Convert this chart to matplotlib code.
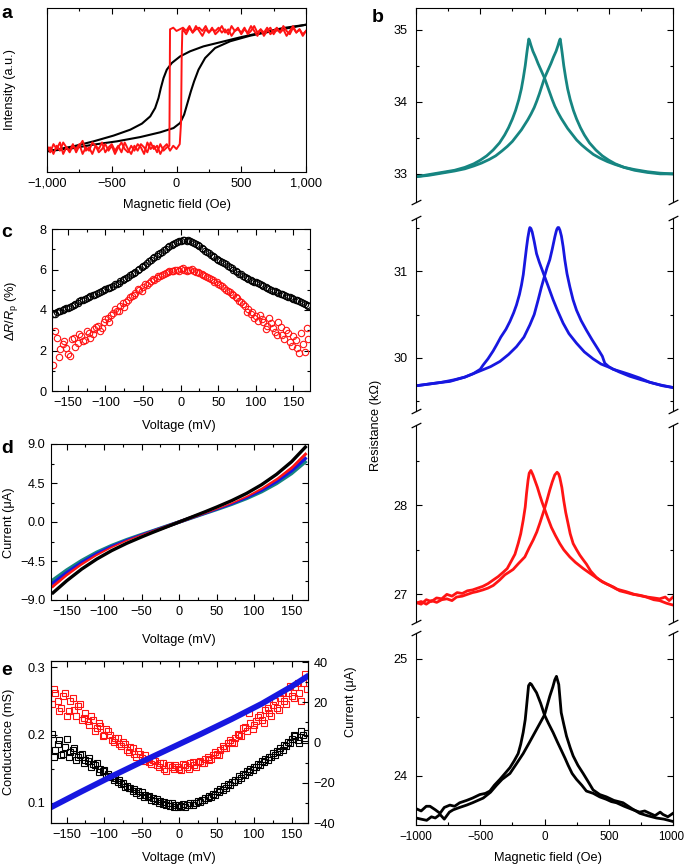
import numpy as np
import matplotlib
matplotlib.use('Agg')
import matplotlib.pyplot as plt
from matplotlib.ticker import MultipleLocator, FuncFormatter, FixedLocator

plt.rcParams['font.family'] = ['Liberation Sans', 'DejaVu Sans']
plt.rcParams['mathtext.fontset'] = 'custom'
plt.rcParams['mathtext.rm'] = 'Liberation Sans'
plt.rcParams['mathtext.it'] = 'Liberation Sans:italic'
FS = 9.2
plt.rcParams['font.size'] = FS

# ---------------- Panel a: hysteresis loops (intensity, a.u.) ----------------
a_black_down_field = [1000, 825, 645, 491, 337, 208, 105, 28, -36, -75, -100, -121, -139, -165, -203, -267,
                      -357, -486, -640, -794, -1000]
a_black_down_int = [0.898, 0.878, 0.848, 0.821, 0.791, 0.766, 0.736, 0.705, 0.665, 0.624, 0.573, 0.512, 0.451,
                    0.390, 0.339, 0.295, 0.258, 0.222, 0.187, 0.157, 0.126]
a_black_up_field = [-1000, -794, -640, -460, -280, -126, -23, 28, 59, 85, 111, 136, 170, 221, 298, 414, 568, 774, 1000]
a_black_up_int = [0.126, 0.146, 0.167, 0.187, 0.213, 0.242, 0.268, 0.299, 0.350, 0.421, 0.492, 0.553, 0.624,
                  0.695, 0.756, 0.797, 0.831, 0.864, 0.898]

a_red_up_low_field = list(range(-1000, 26, 25))
a_red_up_low_int = [0.16, 0.12, 0.17, 0.14, 0.18, 0.11, 0.15, 0.13, 0.17, 0.12, 0.16, 0.19, 0.13, 0.15, 0.11,
                    0.16, 0.14, 0.18, 0.12, 0.15, 0.17, 0.13, 0.16, 0.12, 0.18, 0.14, 0.11, 0.16, 0.13, 0.17,
                    0.15, 0.12, 0.18, 0.14, 0.16, 0.11, 0.15, 0.17, 0.13, 0.16, 0.14, 0.17]
a_red_up_jump_field = [35, 40, 45]
a_red_up_jump_int = [0.30, 0.70, 0.86]
a_red_up_high_field = list(range(50, 1001, 25))
a_red_up_high_int = [0.87, 0.84, 0.88, 0.85, 0.89, 0.86, 0.83, 0.87, 0.85, 0.88, 0.84, 0.86, 0.89, 0.85, 0.87,
                     0.83, 0.86, 0.88, 0.84, 0.87, 0.85, 0.89, 0.86, 0.83, 0.87, 0.85, 0.88, 0.84, 0.86, 0.88,
                     0.85, 0.87, 0.83, 0.86, 0.89, 0.85, 0.87, 0.84, 0.86]
a_red_dn_high_field = list(range(1000, -51, -25))
a_red_dn_high_int = [0.86, 0.83, 0.87, 0.85, 0.88, 0.84, 0.86, 0.89, 0.85, 0.87, 0.84, 0.88, 0.86, 0.83, 0.87,
                     0.85, 0.89, 0.86, 0.84, 0.88, 0.85, 0.87, 0.86, 0.89, 0.84, 0.87, 0.85, 0.88, 0.86, 0.87,
                     0.85, 0.89, 0.86, 0.88, 0.87, 0.85, 0.89, 0.86, 0.88, 0.87, 0.86, 0.88, 0.87]
a_red_dn_jump_field = [-55]
a_red_dn_jump_int = [0.16]
a_red_dn_low_field = list(range(-75, -1001, -25))
a_red_dn_low_int = [0.15, 0.13, 0.17, 0.12, 0.16, 0.14, 0.18, 0.11, 0.15, 0.17, 0.13, 0.16, 0.12, 0.14, 0.18,
                    0.15, 0.11, 0.16, 0.13, 0.17, 0.14, 0.12, 0.16, 0.18, 0.13, 0.15, 0.11, 0.17, 0.14, 0.16,
                    0.12, 0.15, 0.18, 0.13, 0.16, 0.11, 0.15, 0.14]

# ---------------- Panel b: resistance vs field (kOhm) ----------------
b_teal_L_field = [-1000, -900, -800, -700, -620, -550, -500, -450, -400, -350, -310, -280, -250, -225, -200, -180,
                  -165, -150, -138, -128, -122, -115, -105, -90, -70, -50, -30, -10, 0, 20, 40, 60, 80, 105, 130,
                  155, 180, 215, 250, 290, 330, 380, 430, 490, 550, 620, 700, 800, 900, 1000]
b_teal_L_res = [32.96, 32.99, 33.02, 33.05, 33.09, 33.14, 33.19, 33.25, 33.33, 33.43, 33.54, 33.64, 33.76, 33.88,
                34.03, 34.18, 34.33, 34.50, 34.67, 34.80, 34.87, 34.84, 34.78, 34.70, 34.62, 34.53, 34.45, 34.37,
                34.33, 34.23, 34.13, 34.03, 33.94, 33.85, 33.77, 33.70, 33.63, 33.55, 33.47, 33.40, 33.34, 33.27,
                33.22, 33.17, 33.13, 33.09, 33.06, 33.03, 33.01, 33.00]
b_teal_R_field = [-1000, -900, -800, -700, -620, -550, -490, -430, -380, -330, -290, -250, -215, -180, -155, -130,
                  -105, -80, -60, -40, -20, 0, 10, 30, 50, 70, 90, 105, 115, 122, 128, 138, 150, 165, 180, 200,
                  225, 250, 280, 310, 350, 400, 450, 500, 550, 620, 700, 800, 900, 1000]
b_teal_R_res = [32.96, 32.98, 33.01, 33.04, 33.07, 33.11, 33.15, 33.20, 33.25, 33.32, 33.38, 33.45, 33.53, 33.61,
                33.68, 33.75, 33.83, 33.92, 34.01, 34.11, 34.22, 34.33, 34.37, 34.45, 34.53, 34.62, 34.70, 34.78,
                34.84, 34.87, 34.80, 34.67, 34.50, 34.33, 34.18, 34.03, 33.88, 33.76, 33.64, 33.54, 33.43, 33.33,
                33.25, 33.19, 33.14, 33.09, 33.05, 33.02, 33.00, 33.00]

b_blue_L_field = [-1000, -900, -800, -700, -620, -554, -500, -477, -440, -400, -373, -340, -300, -269, -240, -218,
                  -195, -179, -165, -153, -140, -130, -124, -118, -114, -106, -96, -80, -62, -40, -20, 0, 30, 67,
                  100, 145, 190, 249, 310, 378, 440, 508, 580, 663, 750, 845, 920, 1000]
b_blue_L_res = [29.68, 29.70, 29.72, 29.75, 29.78, 29.82, 29.87, 29.92, 29.99, 30.08, 30.15, 30.24, 30.33, 30.42,
                30.52, 30.61, 30.73, 30.84, 30.96, 31.11, 31.27, 31.38, 31.43, 31.48, 31.50, 31.49, 31.45, 31.34,
                31.20, 31.10, 31.02, 30.94, 30.82, 30.67, 30.55, 30.40, 30.28, 30.17, 30.07, 29.99, 29.93, 29.89,
                29.84, 29.79, 29.75, 29.71, 29.68, 29.66]
b_blue_R_field = [-1000, -900, -800, -736, -620, -503, -420, -347, -280, -218, -160, -114, -80, -49, -25, 0, 20,
                  41, 60, 80, 90, 96, 104, 111, 120, 132, 145, 158, 175, 197, 222, 249, 285, 326, 370, 417, 450,
                  469, 500, 534, 600, 663, 740, 819, 900, 1000]
b_blue_R_res = [29.68, 29.70, 29.72, 29.73, 29.78, 29.85, 29.90, 29.96, 30.04, 30.13, 30.24, 30.38, 30.50, 30.67,
                30.81, 30.94, 31.04, 31.13, 31.25, 31.39, 31.45, 31.48, 31.50, 31.50, 31.47, 31.40, 31.28, 31.13,
                30.97, 30.82, 30.67, 30.55, 30.43, 30.32, 30.21, 30.10, 30.02, 29.94, 29.90, 29.87, 29.84, 29.81,
                29.77, 29.72, 29.69, 29.66]

b_red_L_field = [-1000, -960, -920, -880, -840, -800, -760, -720, -680, -640, -600, -560, -520, -480, -440, -400,
                 -360, -320, -290, -256, -230, -205, -185, -166, -150, -140, -128, -119, -106, -90, -75, -55, -36,
                 -18, 0, 25, 54, 85, 119, 150, 197, 240, 301, 350, 430, 480, 540, 585, 640, 690, 741, 800, 850,
                 896, 940, 970, 1000]
b_red_L_res = [26.91, 26.89, 26.94, 26.92, 26.96, 26.95, 27.00, 26.98, 27.02, 27.01, 27.04, 27.05, 27.07, 27.09,
               27.12, 27.16, 27.20, 27.25, 27.29, 27.38, 27.45, 27.57, 27.68, 27.83, 27.98, 28.13, 28.28, 28.36,
               28.39, 28.34, 28.28, 28.20, 28.11, 28.03, 27.96, 27.86, 27.75, 27.66, 27.57, 27.50, 27.42, 27.36,
               27.29, 27.24, 27.16, 27.12, 27.08, 27.04, 27.02, 27.00, 26.99, 26.97, 26.96, 26.95, 26.97, 26.93,
               26.97]
b_red_R_field = [-1000, -960, -920, -880, -839, -800, -760, -720, -684, -640, -600, -560, -528, -480, -440, -399,
                 -350, -308, -275, -244, -200, -153, -120, -88, -60, -36, -18, 0, 20, 41, 60, 80, 98, 110, 119,
                 135, 150, 165, 184, 200, 223, 250, 275, 300, 326, 360, 404, 450, 508, 560, 637, 700, 793, 850,
                 896, 950, 1000]
b_red_R_res = [26.90, 26.92, 26.89, 26.93, 26.91, 26.94, 26.95, 26.93, 26.97, 26.98, 27.00, 27.02, 27.03, 27.05,
               27.07, 27.10, 27.16, 27.22, 27.25, 27.28, 27.35, 27.42, 27.52, 27.61, 27.70, 27.80, 27.88, 27.96,
               28.06, 28.17, 28.26, 28.34, 28.37, 28.35, 28.31, 28.20, 28.05, 27.92, 27.79, 27.68, 27.57, 27.50,
               27.44, 27.39, 27.34, 27.26, 27.19, 27.14, 27.10, 27.06, 27.03, 27.00, 26.97, 26.94, 26.93, 26.90,
               26.88]

b_black_L_field = [-1000, -960, -920, -891, -850, -813, -780, -736, -700, -660, -606, -560, -503, -460, -425,
                   -390, -347, -300, -269, -235, -205, -185, -166, -150, -140, -124, -112, -101, -85, -62, -30, 0,
                   30, 67, 100, 130, 160, 184, 215, 249, 290, 326, 380, 430, 480, 520, 560, 620, 689, 740, 780,
                   819, 860, 900, 922, 960, 1000]
b_black_L_res = [23.72, 23.70, 23.74, 23.74, 23.71, 23.68, 23.73, 23.75, 23.74, 23.77, 23.79, 23.81, 23.84, 23.85,
                 23.87, 23.92, 23.97, 24.03, 24.07, 24.13, 24.19, 24.27, 24.37, 24.48, 24.59, 24.77, 24.79, 24.78,
                 24.75, 24.71, 24.62, 24.52, 24.45, 24.37, 24.29, 24.22, 24.15, 24.09, 24.02, 23.97, 23.92, 23.87,
                 23.85, 23.82, 23.80, 23.78, 23.77, 23.74, 23.71, 23.69, 23.70, 23.68, 23.66, 23.69, 23.67, 23.65,
                 23.68]
b_black_R_field = [-1000, -960, -917, -880, -850, -813, -780, -740, -710, -660, -606, -560, -477, -420, -373,
                   -330, -269, -220, -166, -120, -75, -40, 0, 41, 65, 80, 93, 111, 130, 150, 171, 200, 223, 260,
                   301, 340, 378, 430, 482, 540, 611, 680, 741, 800, 870, 930, 1000]
b_black_R_res = [23.64, 23.63, 23.62, 23.65, 23.64, 23.67, 23.63, 23.69, 23.71, 23.73, 23.75, 23.77, 23.81, 23.86,
                 23.92, 23.97, 24.02, 24.10, 24.19, 24.28, 24.37, 24.44, 24.52, 24.68, 24.76, 24.82, 24.85, 24.78,
                 24.54, 24.44, 24.34, 24.24, 24.17, 24.09, 24.02, 23.95, 23.88, 23.84, 23.82, 23.79, 23.77, 23.72,
                 23.68, 23.66, 23.64, 23.63, 23.61]

# ---------------- Panel c: dR/Rp (%) vs voltage ----------------
c_volt_1 = list(range(-170, 171, 5))
c_volt_2 = list(range(-167, 171, 5))
c_black_1 = [3.80, 3.88, 3.95, 4.05, 4.12, 4.20, 4.28, 4.42, 4.50, 4.58, 4.68, 4.75, 4.85, 4.92, 5.02, 5.10, 5.20,
             5.30, 5.42, 5.52, 5.65, 5.78, 5.90, 6.02, 6.15, 6.30, 6.45, 6.60, 6.75, 6.88, 7.02, 7.15, 7.27, 7.36,
             7.42, 7.46, 7.44, 7.38, 7.28, 7.15, 7.02, 6.88, 6.74, 6.60, 6.47, 6.35, 6.25, 6.12, 6.00, 5.88, 5.76,
             5.65, 5.55, 5.45, 5.36, 5.27, 5.18, 5.10, 5.00, 4.92, 4.85, 4.78, 4.70, 4.62, 4.55, 4.47, 4.40, 4.30,
             4.22]
c_black_2 = [3.78, 3.95, 4.00, 4.12, 4.15, 4.27, 4.33, 4.47, 4.55, 4.62, 4.73, 4.80, 4.90, 4.97, 5.08, 5.15, 5.27,
             5.35, 5.48, 5.60, 5.72, 5.85, 5.97, 6.10, 6.24, 6.40, 6.55, 6.69, 6.83, 6.97, 7.10, 7.22, 7.33, 7.40,
             7.48, 7.43, 7.40, 7.32, 7.20, 7.08, 6.93, 6.80, 6.66, 6.52, 6.40, 6.30, 6.17, 6.05, 5.93, 5.80, 5.70,
             5.60, 5.49, 5.40, 5.31, 5.22, 5.13, 5.05, 4.96, 4.88, 4.80, 4.74, 4.66, 4.58, 4.50, 4.43, 4.35, 4.26]
c_red_1 = [1.30, 2.60, 2.05, 2.45, 1.85, 2.55, 2.15, 2.80, 2.45, 2.95, 2.60, 3.05, 3.20, 3.10, 3.55, 3.40, 3.85,
           3.95, 4.20, 4.15, 4.50, 4.70, 4.85, 5.00, 5.15, 5.25, 5.45, 5.50, 5.70, 5.75, 5.85, 5.95, 5.95, 6.00,
           6.02, 6.00, 5.98, 6.02, 5.90, 5.85, 5.72, 5.65, 5.55, 5.40, 5.30, 5.20, 5.00, 4.90, 4.75, 4.60, 4.40,
           4.20, 4.05, 3.90, 3.70, 3.75, 3.40, 3.20, 3.35, 2.90, 3.40, 2.75, 3.00, 2.40, 2.70, 2.10, 2.85, 1.95,
           2.55]
c_red_2 = [2.95, 1.70, 2.30, 2.10, 1.75, 2.60, 2.35, 2.70, 2.50, 2.85, 2.80, 3.15, 2.95, 3.40, 3.60, 3.75, 4.05,
           3.95, 4.35, 4.40, 4.65, 4.75, 5.05, 4.95, 5.30, 5.35, 5.55, 5.60, 5.70, 5.80, 5.90, 5.92, 5.97, 5.95,
           6.05, 5.95, 6.00, 5.95, 5.88, 5.80, 5.70, 5.58, 5.50, 5.38, 5.25, 5.10, 4.95, 4.80, 4.65, 4.45, 4.30,
           3.90, 3.80, 3.60, 3.45, 3.55, 3.05, 3.60, 3.10, 2.75, 3.15, 2.55, 2.85, 2.20, 2.50, 1.90, 2.30, 3.10]

# ---------------- Panel d: I-V curves (uA) ----------------
d_volt = [-170, -150, -130, -110, -90, -70, -50, -35, -20, 0, 20, 35, 50, 70, 90, 110, 130, 150, 170]
d_teal = [-6.80, -5.55, -4.45, -3.50, -2.72, -2.05, -1.45, -1.02, -0.58, 0.0, 0.58, 1.02, 1.45, 2.05, 2.72, 3.50,
          4.45, 5.60, 7.06]
d_blue = [-7.18, -5.85, -4.68, -3.68, -2.85, -2.15, -1.52, -1.06, -0.61, 0.0, 0.61, 1.06, 1.52, 2.15, 2.85, 3.68,
          4.68, 5.90, 7.45]
d_red = [-7.56, -6.15, -4.92, -3.88, -3.00, -2.25, -1.59, -1.11, -0.64, 0.0, 0.64, 1.11, 1.59, 2.25, 3.00, 3.88,
         4.95, 6.25, 7.95]
d_white = [-7.92, -6.45, -5.17, -4.07, -3.15, -2.36, -1.65, -1.15, -0.66, 0.0, 0.66, 1.15, 1.65, 2.36, 3.15, 4.10,
           5.22, 6.60, 8.38]
d_black = [-8.30, -6.78, -5.43, -4.28, -3.30, -2.46, -1.72, -1.19, -0.68, 0.0, 0.68, 1.19, 1.72, 2.46, 3.30, 4.30,
           5.50, 6.95, 8.78]

# ---------------- Panel e: conductance (mS) and current (uA) ----------------
e_volt_1 = list(range(-170, 171, 5))
e_volt_2 = list(range(-167, 171, 5))
e_red_1 = [0.245, 0.262, 0.235, 0.258, 0.228, 0.250, 0.236, 0.242, 0.222, 0.232, 0.215, 0.222, 0.210, 0.213,
           0.200, 0.205, 0.192, 0.196, 0.186, 0.190, 0.178, 0.182, 0.172, 0.176, 0.166, 0.170, 0.160, 0.163,
           0.156, 0.158, 0.150, 0.155, 0.152, 0.156, 0.150, 0.157, 0.153, 0.158, 0.155, 0.160, 0.158, 0.165,
           0.163, 0.170, 0.172, 0.178, 0.180, 0.188, 0.190, 0.196, 0.200, 0.210, 0.206, 0.218, 0.214, 0.226,
           0.222, 0.236, 0.232, 0.244, 0.240, 0.255, 0.250, 0.262, 0.258, 0.270, 0.262, 0.276, 0.268]
e_red_2 = [0.268, 0.250, 0.240, 0.262, 0.235, 0.255, 0.228, 0.245, 0.225, 0.220, 0.228, 0.205, 0.218, 0.198,
           0.208, 0.200, 0.190, 0.195, 0.183, 0.186, 0.175, 0.180, 0.168, 0.172, 0.162, 0.165, 0.157, 0.162,
           0.152, 0.158, 0.147, 0.156, 0.150, 0.153, 0.148, 0.155, 0.150, 0.160, 0.153, 0.162, 0.158, 0.167,
           0.165, 0.175, 0.170, 0.184, 0.180, 0.192, 0.188, 0.202, 0.198, 0.212, 0.232, 0.208, 0.220, 0.230,
           0.218, 0.240, 0.228, 0.250, 0.236, 0.262, 0.245, 0.272, 0.255, 0.276, 0.250, 0.290]
e_black_1 = [0.202, 0.178, 0.192, 0.172, 0.194, 0.175, 0.180, 0.168, 0.172, 0.163, 0.166, 0.157, 0.158, 0.150,
             0.148, 0.142, 0.140, 0.136, 0.133, 0.129, 0.125, 0.122, 0.120, 0.117, 0.115, 0.112, 0.110, 0.107,
             0.105, 0.103, 0.101, 0.099, 0.100, 0.097, 0.096, 0.098, 0.097, 0.100, 0.099, 0.102, 0.104, 0.107,
             0.110, 0.113, 0.117, 0.120, 0.124, 0.127, 0.131, 0.134, 0.139, 0.142, 0.146, 0.150, 0.153, 0.157,
             0.161, 0.165, 0.168, 0.173, 0.176, 0.181, 0.185, 0.190, 0.194, 0.198, 0.188, 0.200, 0.203]
e_black_2 = [0.168, 0.186, 0.170, 0.182, 0.168, 0.178, 0.163, 0.170, 0.158, 0.162, 0.152, 0.155, 0.145, 0.146,
             0.140, 0.138, 0.133, 0.131, 0.127, 0.123, 0.121, 0.117, 0.114, 0.112, 0.109, 0.108, 0.104, 0.103,
             0.100, 0.098, 0.097, 0.095, 0.094, 0.093, 0.095, 0.094, 0.096, 0.097, 0.099, 0.101, 0.104, 0.107,
             0.108, 0.112, 0.115, 0.119, 0.122, 0.126, 0.130, 0.134, 0.137, 0.141, 0.145, 0.148, 0.152, 0.155,
             0.160, 0.163, 0.167, 0.170, 0.175, 0.178, 0.183, 0.188, 0.200, 0.192, 0.205, 0.195]
e_blue_volt = [-170, -130, -90, -50, -10, 30, 70, 110, 150, 170]
e_blue_current = [-32.0, -24.3, -16.8, -9.6, -2.6, 4.4, 11.6, 19.2, 27.8, 32.6]

# ---------------- colours ----------------
TEAL = '#168581'
BLUE = '#1717e0'
RED = '#ff1414'

W, H = 685, 866
fig = plt.figure(figsize=(W / 100, H / 100), dpi=100)


def add_ax(l, t, r, b):
    return fig.add_axes([l / W, 1 - b / H, (r - l) / W, (b - t) / H])


def ftext(x, y, s, **kw):
    kw.setdefault('ha', 'center')
    kw.setdefault('va', 'center')
    kw.setdefault('fontsize', FS)
    fig.text(x / W, 1 - y / H, s, **kw)


def style(ax):
    ax.tick_params(which='both', direction='in', top=True, right=True, width=0.8, labelsize=FS, pad=4)
    ax.tick_params(which='major', length=4)
    ax.tick_params(which='minor', length=2)
    for s in ax.spines.values():
        s.set_linewidth(0.8)


def minus(s):
    return s.replace('-', '\u2212')


def pairs(x, y):
    n = min(len(x), len(y))
    return list(x)[:n], list(y)[:n]


# ---------------- a ----------------
ax = add_ax(47, 8, 306, 172)
style(ax)
ax.plot(*pairs(a_black_down_field, a_black_down_int), color='k', lw=1.5)
ax.plot(*pairs(a_black_up_field, a_black_up_int), color='k', lw=1.5)
fu, iu = pairs(a_red_up_low_field, a_red_up_low_int)
fh, ih = pairs(a_red_up_high_field, a_red_up_high_int)
ax.plot(fu + a_red_up_jump_field + fh, iu + a_red_up_jump_int + ih, color=RED, lw=1.4)
fd, idd = pairs(a_red_dn_high_field, a_red_dn_high_int)
fl, il = pairs(a_red_dn_low_field, a_red_dn_low_int)
ax.plot(fd + a_red_dn_jump_field + fl, idd + a_red_dn_jump_int + il, color=RED, lw=1.4)
ax.set_xlim(-1000, 1000)
ax.set_ylim(0, 1)
ax.set_yticks([])
ax.tick_params(left=False, right=False)
ax.xaxis.set_major_locator(MultipleLocator(500))
ax.xaxis.set_minor_locator(MultipleLocator(250))
ax.xaxis.set_major_formatter(FuncFormatter(lambda v, p: minus(f"{v:,.0f}")))
ftext(177, 205, 'Magnetic field (Oe)')
ftext(10, 90, 'Intensity (a.u.)', rotation=90)

# ---------------- c ----------------
ax = add_ax(52, 229, 310, 391)
style(ax)
ax.plot(*pairs(c_volt_1, c_red_1), 'o', ms=4.6, mfc='none', mec=RED, mew=0.8)
ax.plot(*pairs(c_volt_2, c_red_2), 'o', ms=4.6, mfc='none', mec=RED, mew=0.8)
ax.plot(*pairs(c_volt_1, c_black_1), 'o', ms=4.6, mfc='none', mec='k', mew=0.8)
ax.plot(*pairs(c_volt_2, c_black_2), 'o', ms=4.6, mfc='none', mec='k', mew=0.8)
ax.set_xlim(-171, 172)
ax.set_ylim(0, 8)
ax.xaxis.set_major_locator(MultipleLocator(50))
ax.xaxis.set_minor_locator(MultipleLocator(25))
ax.yaxis.set_major_locator(MultipleLocator(2))
ax.yaxis.set_minor_locator(MultipleLocator(1))
ax.xaxis.set_major_formatter(FuncFormatter(lambda v, p: minus(f"{v:.0f}")))
ftext(179, 426, 'Voltage (mV)')
ftext(12, 311, r'$\Delta R/R_{\rm p}$ (%)', rotation=90)

# ---------------- d ----------------
ax = add_ax(51, 444, 308, 600)
style(ax)
ax.plot(d_volt, d_teal, color=TEAL, lw=2.6, solid_capstyle='butt')
ax.plot(d_volt, d_blue, color=BLUE, lw=2.4, solid_capstyle='butt')
ax.plot(d_volt, d_red, color=RED, lw=2.2, solid_capstyle='butt')
ax.plot(d_volt, d_white, color='white', lw=1.4, solid_capstyle='butt')
ax.plot(d_volt, d_black, color='k', lw=2.4, solid_capstyle='butt')
ax.set_xlim(-171, 172)
ax.set_ylim(-9, 9)
ax.xaxis.set_major_locator(MultipleLocator(50))
ax.xaxis.set_minor_locator(MultipleLocator(25))
ax.yaxis.set_major_locator(FixedLocator([-9, -4.5, 0, 4.5, 9]))
ax.yaxis.set_minor_locator(FixedLocator([-6.75, -2.25, 2.25, 6.75]))
ax.xaxis.set_major_formatter(FuncFormatter(lambda v, p: minus(f"{v:.0f}")))
ax.yaxis.set_major_formatter(FuncFormatter(lambda v, p: minus(f"{v:.1f}")))
ftext(179, 640, 'Voltage (mV)')
ftext(9, 523, 'Current (\u03bcA)', rotation=90)

# ---------------- e ----------------
ax = add_ax(51, 661, 308, 823)
style(ax)
ax.tick_params(right=False)
ax.plot(*pairs(e_volt_1, e_red_1), 's', ms=4.6, mfc='none', mec=RED, mew=0.8)
ax.plot(*pairs(e_volt_2, e_red_2), 's', ms=4.6, mfc='none', mec=RED, mew=0.8)
ax.plot(*pairs(e_volt_1, e_black_1), 's', ms=4.6, mfc='none', mec='k', mew=0.8)
ax.plot(*pairs(e_volt_2, e_black_2), 's', ms=4.6, mfc='none', mec='k', mew=0.8)
ax.set_xlim(-171, 172)
ax.set_ylim(0.07, 0.309)
ax.xaxis.set_major_locator(MultipleLocator(50))
ax.xaxis.set_minor_locator(MultipleLocator(25))
ax.yaxis.set_major_locator(FixedLocator([0.1, 0.2, 0.3]))
ax.yaxis.set_minor_locator(FixedLocator([0.15, 0.25]))
ax.xaxis.set_major_formatter(FuncFormatter(lambda v, p: minus(f"{v:.0f}")))
ax.yaxis.set_major_formatter(FuncFormatter(lambda v, p: f"{v:.1f}"))
ax2 = ax.twinx()
ax2.plot(e_blue_volt, e_blue_current, color=BLUE, lw=4.2)
ax2.set_ylim(-40, 40.5)
ax2.tick_params(which='both', direction='in', width=0.8, labelsize=FS, pad=4)
ax2.tick_params(which='major', length=4)
ax2.tick_params(which='minor', length=2)
ax2.yaxis.set_major_locator(MultipleLocator(20))
ax2.yaxis.set_minor_locator(MultipleLocator(10))
ax2.yaxis.set_major_formatter(FuncFormatter(lambda v, p: minus(f"{v:.0f}")))
for s in ax2.spines.values():
    s.set_linewidth(0.8)
ftext(179, 858, 'Voltage (mV)')
ftext(9, 742, 'Conductance (mS)', rotation=90)
ftext(351, 702, 'Current (\u03bcA)', rotation=90)

# ---------------- b ----------------
b_rows = [(8, 202, (32.61, 35.30), [33, 34, 35]),
          (218, 411, (29.39, 31.61), [30, 31]),
          (425, 622, (26.69, 28.90), [27, 28]),
          (633, 825, (23.58, 25.22), [24, 25])]
b_series = [((b_teal_L_field, b_teal_L_res), (b_teal_R_field, b_teal_R_res), TEAL),
            ((b_blue_L_field, b_blue_L_res), (b_blue_R_field, b_blue_R_res), BLUE),
            ((b_red_L_field, b_red_L_res), (b_red_R_field, b_red_R_res), RED),
            ((b_black_L_field, b_black_L_res), (b_black_R_field, b_black_R_res), 'k')]
nrow = len(b_rows)
for i, ((t, bt, ylim, yt), (sL, sR, col)) in enumerate(zip(b_rows, b_series)):
    ax = add_ax(416, t, 673, bt)
    style(ax)
    ax.plot(*pairs(*sL), color=col, lw=2.0)
    ax.plot(*pairs(*sR), color=col, lw=2.0)
    ax.set_xlim(-1000, 1000)
    ax.set_ylim(*ylim)
    ax.yaxis.set_major_locator(FixedLocator(yt))
    ax.yaxis.set_minor_locator(MultipleLocator(0.5))
    ax.yaxis.set_major_formatter(FuncFormatter(lambda v, p: f"{v:.0f}"))
    ax.tick_params(axis='y', pad=6)
    ax.xaxis.set_major_locator(MultipleLocator(500))
    ax.xaxis.set_minor_locator(MultipleLocator(250))
    ax.xaxis.set_major_formatter(FuncFormatter(lambda v, p: minus(f"{v:.0f}")))
    first, last = (i == 0), (i == nrow - 1)
    ax.spines['top'].set_visible(first)
    ax.spines['bottom'].set_visible(last)
    ax.tick_params(axis='x', which='both', top=first, bottom=last, labelbottom=last, labelsize=8.4)
    kw = dict(marker=[(-1, -0.5), (1, 0.5)], markersize=7, linestyle='none', color='k', mec='k', mew=0.9,
              clip_on=False, transform=ax.transAxes)
    if not last:
        ax.plot([0, 1], [0, 0], **kw)
    if not first:
        ax.plot([0, 1], [1, 1], **kw)
    if last:
        labels = ax.get_xticklabels()
ftext(548, 858, 'Magnetic field (Oe)')
ftext(376, 425, 'Resistance (k\u03a9)', rotation=90)

# keep the rightmost tick label of panel b inside the canvas
fig.canvas.draw()
for lab in labels:
    if lab.get_text() == '1000':
        lab.set_horizontalalignment('right')
        lab.set_x(lab.get_position()[0])
        from matplotlib.transforms import offset_copy
        lab.set_transform(offset_copy(lab.get_transform(), fig=fig, x=11, units='dots'))

# ---------------- panel letters ----------------
for lab, x, y in [('a', 1, 18), ('b', 372, 22), ('c', 1, 237), ('d', 1, 453), ('e', 1, 675)]:
    ftext(x, y, lab, ha='left', va='baseline', fontsize=14, fontweight='bold')

fig.savefig('out.png', dpi=100)
